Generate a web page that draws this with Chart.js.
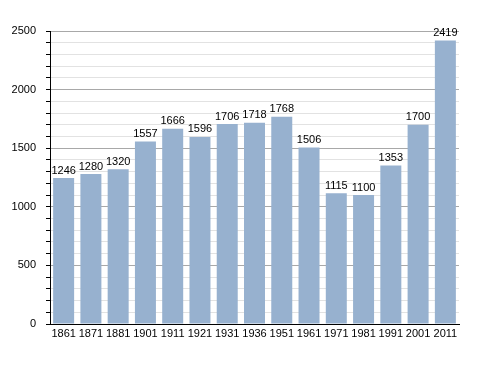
<!DOCTYPE html>
<html>
<head>
<meta charset="utf-8">
<script src="https://cdn.jsdelivr.net/npm/chart.js@4/dist/chart.umd.min.js"></script>
<style>
  html, body { margin: 0; padding: 0; background: #fff; }
  #wrap { width: 488px; height: 373px; }
</style>
</head>
<body>
<div id="wrap"><canvas id="myChart" width="488" height="373"></canvas></div>
<script>
var years = ["1861", "1871", "1881", "1901", "1911", "1921", "1931", "1936", "1951", "1961", "1971", "1981", "1991", "2001", "2011"];
var population = [1246, 1280, 1320, 1557, 1666, 1596, 1706, 1718, 1768, 1506, 1115, 1100, 1353, 1700, 2419];
var yMax = 2500;
var yStep = 100;
var labelEvery = 500;

var barColor = "#97b1cf";

// draws the number above every bar
var valueLabels = {
  id: "valueLabels",
  afterDatasetsDraw: function (chart) {
    var ctx = chart.ctx;
    var meta = chart.getDatasetMeta(0);
    ctx.save();
    ctx.font = "11px 'Liberation Sans', Arial, sans-serif";
    ctx.fillStyle = "#000";
    ctx.textAlign = "center";
    ctx.textBaseline = "bottom";
    meta.data.forEach(function (bar, i) {
      ctx.fillText(String(population[i]), bar.x, bar.y - 2);
    });
    ctx.restore();
  }
};

Chart.defaults.font.family = "'Liberation Sans', Arial, sans-serif";
Chart.defaults.font.size = 11;
Chart.defaults.color = "#000";

new Chart("myChart", {
  type: "bar",
  data: {
    labels: years,
    datasets: [{
      data: population,
      backgroundColor: barColor,
      borderWidth: 0,
      barPercentage: 0.77,
      categoryPercentage: 1.0
    }]
  },
  options: {
    responsive: false,
    animation: false,
    events: [],
    layout: { padding: { top: 31, right: 29, bottom: 28, left: 0 } },
    plugins: {
      legend: { display: false },
      tooltip: { enabled: false }
    },
    scales: {
      x: {
        grid: { display: false, drawTicks: false },
        border: { color: "#000", width: 1 },
        ticks: { padding: 3, maxRotation: 0, autoSkip: false, color: "#000" },
        afterFit: function (scale) { scale.height = 21; }
      },
      y: {
        min: 0,
        max: yMax,
        afterBuildTicks: function (scale) {
          var t = [];
          for (var v = 0; v <= yMax; v += yStep) t.push({ value: v });
          scale.ticks = t;
        },
        ticks: {
          padding: 10,
          autoSkip: false,
          color: "#000",
          callback: function (v) { return v % labelEvery === 0 ? v : ""; }
        },
        grid: {
          color: function (c) {
            if (c.tick && c.tick.value === 0) return "rgba(0,0,0,0)";
            return c.tick && c.tick.value % labelEvery === 0 ? "#a8a8a8" : "#e2e2e2";
          },
          tickColor: "#000",
          tickLength: 4,
          lineWidth: 1
        },
        border: { color: "#000", width: 1 },
        afterFit: function (scale) { scale.width = 50; }
      }
    }
  },
  plugins: [valueLabels]
});
</script>
</body>
</html>
